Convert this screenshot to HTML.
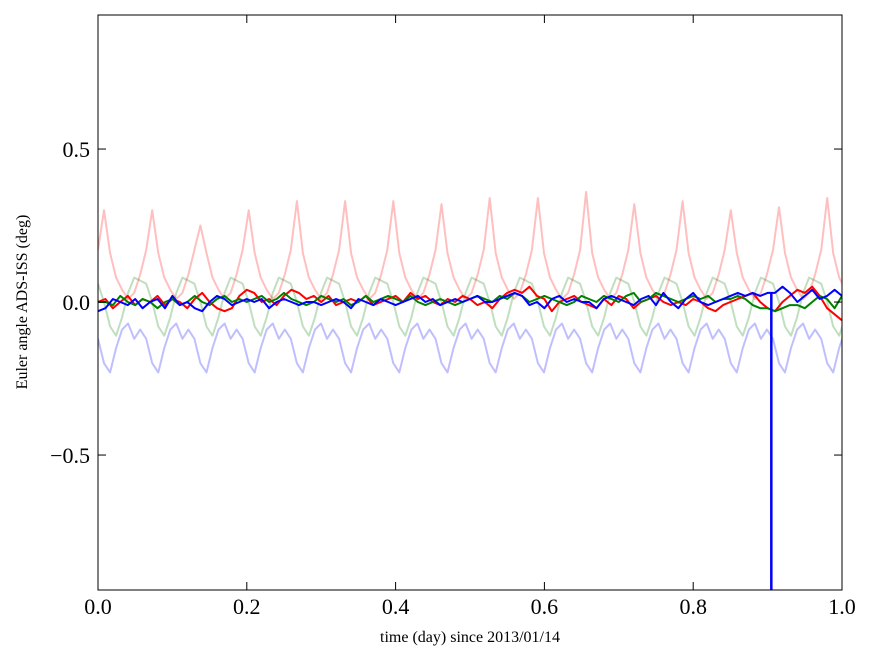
<!DOCTYPE html>
<html><head><meta charset="utf-8"><style>
body{margin:0;background:#fff;}
svg text{font-family:"Liberation Serif",serif;}
</style></head><body>
<svg id="chart" width="875" height="662" xmlns="http://www.w3.org/2000/svg">
<rect x="0" y="0" width="875" height="662" fill="#fff"/>
<g id="plot"></g>
<rect x="98" y="15" width="744" height="575" fill="none" stroke="#000" stroke-width="1"/>
<g id="axes"></g>
<text x="470" y="642" font-size="16" text-anchor="middle">time (day) since 2013/01/14</text>
<text x="27" y="302" font-size="16" text-anchor="middle" transform="rotate(-90 27 302)">Euler angle ADS-ISS (deg)</text>
</svg>
<script>
const xTicks=[0.0,0.2,0.4,0.6,0.8,1.0];
const xTickLabels=["0.0","0.2","0.4","0.6","0.8","1.0"];
const yTicks=[0.5,0.0,-0.5];
const yTickLabels=["0.5","0.0","\u22120.5"];
const peaks=[0.30,0.30,0.25,0.30,0.33,0.33,0.33,0.32,0.34,0.34,0.36,0.32,0.33,0.30,0.31,0.34];
const pinkShape=[0.17,1.0,0.16,0.08,0.04,0.01,0.03,0.09];
const greenFaintShape=[0.06,0.0,-0.08,-0.11,-0.05,0.03,0.08,0.07];
const blueFaintShape=[-0.12,-0.20,-0.23,-0.15,-0.09,-0.07,-0.12,-0.09];
const faintStep=0.0081;
const redVals=[0.00,0.01,-0.02,0.00,0.02,-0.01,0.01,0.00,0.02,-0.01,0.01,0.00,-0.02,0.01,0.03,0.00,-0.02,-0.03,-0.02,0.02,0.04,0.03,0.00,0.01,-0.01,0.02,0.04,0.03,0.01,0.02,0.00,0.02,-0.01,0.00,0.01,0.00,0.02,-0.01,0.00,0.01,0.02,0.00,0.03,0.01,0.02,0.00,-0.01,0.01,0.00,0.02,0.01,-0.01,0.00,-0.02,0.01,0.03,0.04,0.03,0.05,0.02,0.01,-0.03,0.00,0.01,0.02,0.00,-0.01,-0.02,0.01,-0.01,0.02,0.01,-0.02,0.00,0.01,0.02,0.00,-0.01,0.00,-0.01,0.01,0.00,-0.02,-0.03,-0.01,0.00,0.01,0.02,0.03,0.00,-0.02,-0.03,0.00,0.02,0.04,0.03,0.05,0.02,-0.02,-0.04,-0.06];
const greenVals=[0.00,0.00,-0.01,0.02,0.00,-0.01,0.01,0.00,-0.02,0.00,0.01,-0.01,0.00,0.02,0.00,-0.01,0.01,0.02,0.00,0.01,0.00,0.01,0.02,0.00,0.01,0.03,0.01,0.00,-0.01,0.00,0.02,0.01,0.00,0.01,-0.01,0.00,0.02,0.00,0.01,0.02,0.01,0.00,0.02,0.00,-0.01,0.00,0.01,0.00,-0.01,0.00,0.01,0.02,0.01,0.00,0.02,0.01,0.03,0.02,0.00,0.01,0.02,0.01,0.00,-0.01,0.00,0.02,0.01,0.00,0.02,0.01,0.00,0.02,0.03,0.00,0.01,0.03,0.02,0.01,0.00,0.01,0.02,0.01,0.02,0.00,0.01,0.01,0.02,0.01,-0.01,-0.02,-0.02,-0.03,-0.02,-0.01,-0.01,-0.02,0.00,0.02,0.01,-0.02,0.02];
const blueVals=[-0.03,-0.02,0.01,0.00,-0.01,0.01,-0.02,0.00,0.01,-0.02,0.02,-0.01,0.00,-0.02,-0.03,0.00,0.02,0.01,-0.01,0.00,0.01,0.00,0.01,-0.02,0.00,0.01,0.00,-0.01,0.00,0.00,-0.01,0.00,0.01,0.00,-0.02,0.01,0.00,-0.01,0.01,0.00,-0.01,0.00,0.01,0.02,0.00,0.01,-0.01,0.00,0.01,0.00,0.01,0.02,0.00,0.00,0.01,0.02,0.03,0.02,-0.01,0.00,-0.02,0.01,0.02,0.00,0.01,0.00,0.00,-0.02,0.01,0.02,0.01,0.00,-0.01,0.01,0.02,-0.01,0.03,0.00,-0.02,0.01,0.03,0.00,-0.01,0.00,0.01,0.02,0.03,0.02,0.03,0.02,0.03,0.03,0.05,0.03,0.00,0.02,0.04,0.01,0.02,0.04,0.02];
const spikeTime=[0.905];
const spikeVals=[-1.2];
const noisyStep=0.01;

const X0=98,X1=842,Y0=15,Y1=590,ymax=0.938,ymin=-0.941;
const sx=v=>X0+(X1-X0)*v;
const sy=v=>Y0+(Y1-Y0)*(ymax-v)/(ymax-ymin);
const NS="http://www.w3.org/2000/svg";
const plot=document.getElementById('plot');
const axes=document.getElementById('axes');
const defs=document.createElementNS(NS,'clipPath');defs.setAttribute('id','clip');
const cr=document.createElementNS(NS,'rect');cr.setAttribute('x',X0);cr.setAttribute('y',Y0);cr.setAttribute('width',X1-X0);cr.setAttribute('height',Y1-Y0);defs.appendChild(cr);
document.getElementById('chart').insertBefore(defs,plot);
plot.setAttribute('clip-path','url(#clip)');
function line(vals,step,color,op,name){
  const pts=vals.map((v,i)=>sx(i*step).toFixed(1)+','+sy(v).toFixed(1)).join(' ');
  const p=document.createElementNS(NS,'polyline');
  p.setAttribute('points',pts);p.setAttribute('fill','none');p.setAttribute('stroke',color);
  p.setAttribute('stroke-width','2');p.setAttribute('stroke-opacity',op);p.setAttribute('stroke-linejoin','round');
  
  
  plot.appendChild(p);
}
const pink=[],gf=[],bf=[];
for(let k=0;k<16;k++){for(let j=0;j<8;j++){
  pink.push(j===1?peaks[k]:pinkShape[j]);
  gf.push(greenFaintShape[j]);bf.push(blueFaintShape[j]);
}}
line(pink,faintStep,'#ff0000',0.25,'faint-red-series');
line(gf,faintStep,'#008000',0.25,'faint-green-series');
line(bf,faintStep,'#0000ff',0.25,'faint-blue-series');
line(redVals,noisyStep,'#ff0000',1,'red-series');
line(greenVals,noisyStep,'#008000',1,'green-series');
line(blueVals,noisyStep,'#0000ff',1,'blue-series');
spikeTime.forEach((t,i)=>{
  const l=document.createElementNS(NS,'line');
  l.setAttribute('x1',sx(t));l.setAttribute('x2',sx(t));
  l.setAttribute('y1',sy(0.03));l.setAttribute('y2',sy(spikeVals[i]));
  l.setAttribute('stroke','#0000ff');l.setAttribute('stroke-width','2.5');
  
  
  plot.appendChild(l);
});
function txt(x,y,s,anchor,name){const t=document.createElementNS(NS,'text');t.setAttribute('x',x);t.setAttribute('y',y);t.setAttribute('font-size','22');t.setAttribute('text-anchor',anchor);t.textContent=s;
  
  
  axes.appendChild(t);}
function tick(x1,y1,x2,y2){const l=document.createElementNS(NS,'line');l.setAttribute('x1',x1);l.setAttribute('y1',y1);l.setAttribute('x2',x2);l.setAttribute('y2',y2);l.setAttribute('stroke','#000');
  
  
  axes.appendChild(l);}
xTicks.forEach((v,i)=>{const x=sx(v);tick(x,Y1,x,Y1-8);tick(x,Y0,x,Y0+8);txt(x,614,xTickLabels[i],'middle','x-tick-label');});
yTicks.forEach((v,i)=>{const y=sy(v);tick(X0,y,X0+8,y);tick(X1,y,X1-8,y);txt(90,y+8,yTickLabels[i],'end','y-tick-label');});
</script>
</body></html>
